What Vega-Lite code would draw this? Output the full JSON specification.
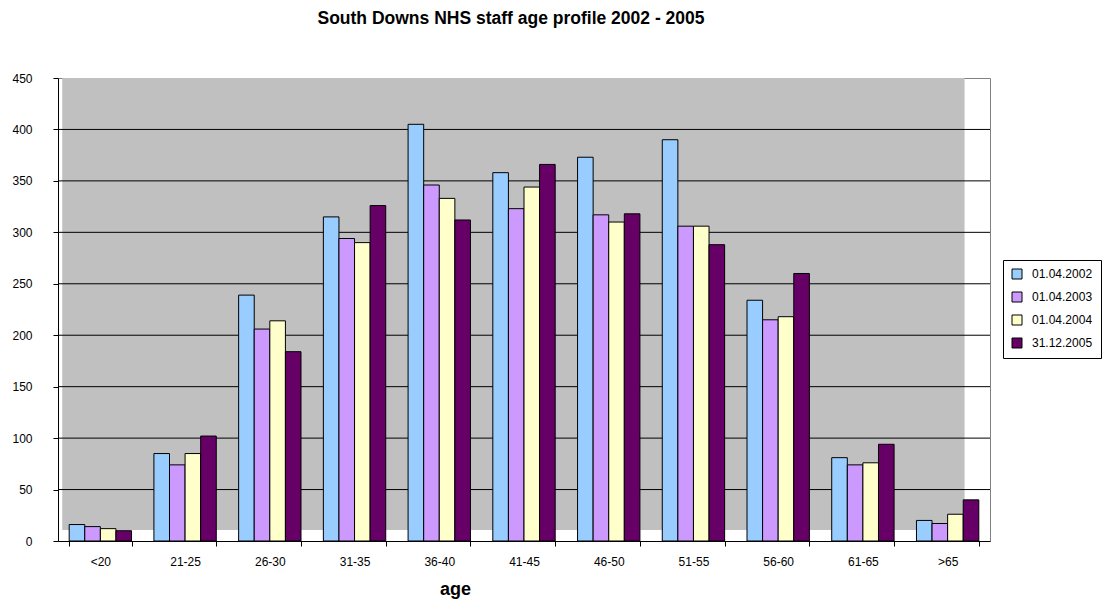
{
  "$schema": "https://vega.github.io/schema/vega-lite/v6.json",
  "width": 932,
  "height": 463,
  "autosize": "none",
  "padding": {"left": 58, "top": 78, "right": 122, "bottom": 59},
  "background": "white",
  "title": {"text": "South Downs NHS staff age profile 2002 - 2005", "font": "Liberation Sans", "fontSize": 17.5, "fontWeight": "bold", "color": "black", "anchor": "middle", "dx": -13, "offset": 45},
  "config": {
    "view": {"stroke": "#808080", "strokeWidth": 1},
    "font": "Liberation Sans",
    "axis": {"domainColor": "black", "tickColor": "black", "labelColor": "black", "labelFont": "Liberation Sans", "labelFontSize": 12, "grid": false, "domainWidth": 1, "tickWidth": 1, "tickSize": 5}
  },
  "data": {"values": [
    {"age": "<20", "date": "01.04.2002", "staff": 16},
    {"age": "<20", "date": "01.04.2003", "staff": 14},
    {"age": "<20", "date": "01.04.2004", "staff": 12},
    {"age": "<20", "date": "31.12.2005", "staff": 10},
    {"age": "21-25", "date": "01.04.2002", "staff": 85},
    {"age": "21-25", "date": "01.04.2003", "staff": 74},
    {"age": "21-25", "date": "01.04.2004", "staff": 85},
    {"age": "21-25", "date": "31.12.2005", "staff": 102},
    {"age": "26-30", "date": "01.04.2002", "staff": 239},
    {"age": "26-30", "date": "01.04.2003", "staff": 206},
    {"age": "26-30", "date": "01.04.2004", "staff": 214},
    {"age": "26-30", "date": "31.12.2005", "staff": 184},
    {"age": "31-35", "date": "01.04.2002", "staff": 315},
    {"age": "31-35", "date": "01.04.2003", "staff": 294},
    {"age": "31-35", "date": "01.04.2004", "staff": 290},
    {"age": "31-35", "date": "31.12.2005", "staff": 326},
    {"age": "36-40", "date": "01.04.2002", "staff": 405},
    {"age": "36-40", "date": "01.04.2003", "staff": 346},
    {"age": "36-40", "date": "01.04.2004", "staff": 333},
    {"age": "36-40", "date": "31.12.2005", "staff": 312},
    {"age": "41-45", "date": "01.04.2002", "staff": 358},
    {"age": "41-45", "date": "01.04.2003", "staff": 323},
    {"age": "41-45", "date": "01.04.2004", "staff": 344},
    {"age": "41-45", "date": "31.12.2005", "staff": 366},
    {"age": "46-50", "date": "01.04.2002", "staff": 373},
    {"age": "46-50", "date": "01.04.2003", "staff": 317},
    {"age": "46-50", "date": "01.04.2004", "staff": 310},
    {"age": "46-50", "date": "31.12.2005", "staff": 318},
    {"age": "51-55", "date": "01.04.2002", "staff": 390},
    {"age": "51-55", "date": "01.04.2003", "staff": 306},
    {"age": "51-55", "date": "01.04.2004", "staff": 306},
    {"age": "51-55", "date": "31.12.2005", "staff": 288},
    {"age": "56-60", "date": "01.04.2002", "staff": 234},
    {"age": "56-60", "date": "01.04.2003", "staff": 215},
    {"age": "56-60", "date": "01.04.2004", "staff": 218},
    {"age": "56-60", "date": "31.12.2005", "staff": 260},
    {"age": "61-65", "date": "01.04.2002", "staff": 81},
    {"age": "61-65", "date": "01.04.2003", "staff": 74},
    {"age": "61-65", "date": "01.04.2004", "staff": 76},
    {"age": "61-65", "date": "31.12.2005", "staff": 94},
    {"age": ">65", "date": "01.04.2002", "staff": 20},
    {"age": ">65", "date": "01.04.2003", "staff": 17},
    {"age": ">65", "date": "01.04.2004", "staff": 26},
    {"age": ">65", "date": "31.12.2005", "staff": 40}
  ]},
  "layer": [
    {
      "data": {"values": [{}]},
      "mark": {"type": "rect", "fill": "#C0C0C0"},
      "encoding": {
        "x": {"datum": 0.05, "type": "quantitative", "scale": {"domain": [0, 11], "nice": false, "zero": false}, "axis": null},
        "x2": {"datum": 10.7},
        "y": {"datum": 10.7, "type": "quantitative", "scale": {"domain": [0, 450]}, "axis": {"title": null}},
        "y2": {"datum": 450}
      }
    },
    {
      "data": {"values": [{"g": 50}, {"g": 100}, {"g": 150}, {"g": 200}, {"g": 250}, {"g": 300}, {"g": 350}, {"g": 400}]},
      "mark": {"type": "rule", "color": "black", "strokeWidth": 1},
      "encoding": {
        "y": {"field": "g", "type": "quantitative", "axis": {"title": null}}
      }
    },
    {
      "mark": {"type": "bar", "stroke": "black", "strokeWidth": 1},
      "encoding": {
        "x": {
          "field": "age", "type": "nominal",
          "sort": ["<20", "21-25", "26-30", "31-35", "36-40", "41-45", "46-50", "51-55", "56-60", "61-65", ">65"],
          "scale": {"paddingInner": 0.264, "paddingOuter": 0.132},
          "axis": {"title": "age", "labelAngle": 0, "tickBand": "extent", "labelPadding": 10, "titleFont": "Liberation Sans", "titleFontSize": 18, "titleFontWeight": "bold", "titleColor": "black", "titleX": 397, "titleY": 53, "titleBaseline": "alphabetic", "titleAlign": "center"}
        },
        "xOffset": {
          "field": "date", "type": "nominal",
          "sort": ["01.04.2002", "01.04.2003", "01.04.2004", "31.12.2005"],
          "scale": {"paddingInner": 0, "paddingOuter": 0}
        },
        "y": {
          "field": "staff", "type": "quantitative",
          "scale": {"domain": [0, 450], "nice": false},
          "axis": {"title": null, "values": [0, 50, 100, 150, 200, 250, 300, 350, 400, 450], "labelPadding": 21}
        },
        "color": {
          "field": "date", "type": "nominal",
          "sort": ["01.04.2002", "01.04.2003", "01.04.2004", "31.12.2005"],
          "scale": {"range": ["#99CCFF", "#CC99FF", "#FFFFCC", "#660066"]},
          "legend": {"title": null, "orient": "none", "legendX": 945, "legendY": 182, "symbolType": "square", "symbolSize": 100, "symbolStrokeColor": "black", "symbolStrokeWidth": 1, "labelFont": "Liberation Sans", "labelFontSize": 12, "labelColor": "black", "strokeColor": "black", "fillColor": "white", "padding": 8, "rowPadding": 9, "labelOffset": 9}
        }
      }
    }
  ],
  "resolve": {"scale": {"x": "independent"}, "axis": {"x": "independent"}}
}
